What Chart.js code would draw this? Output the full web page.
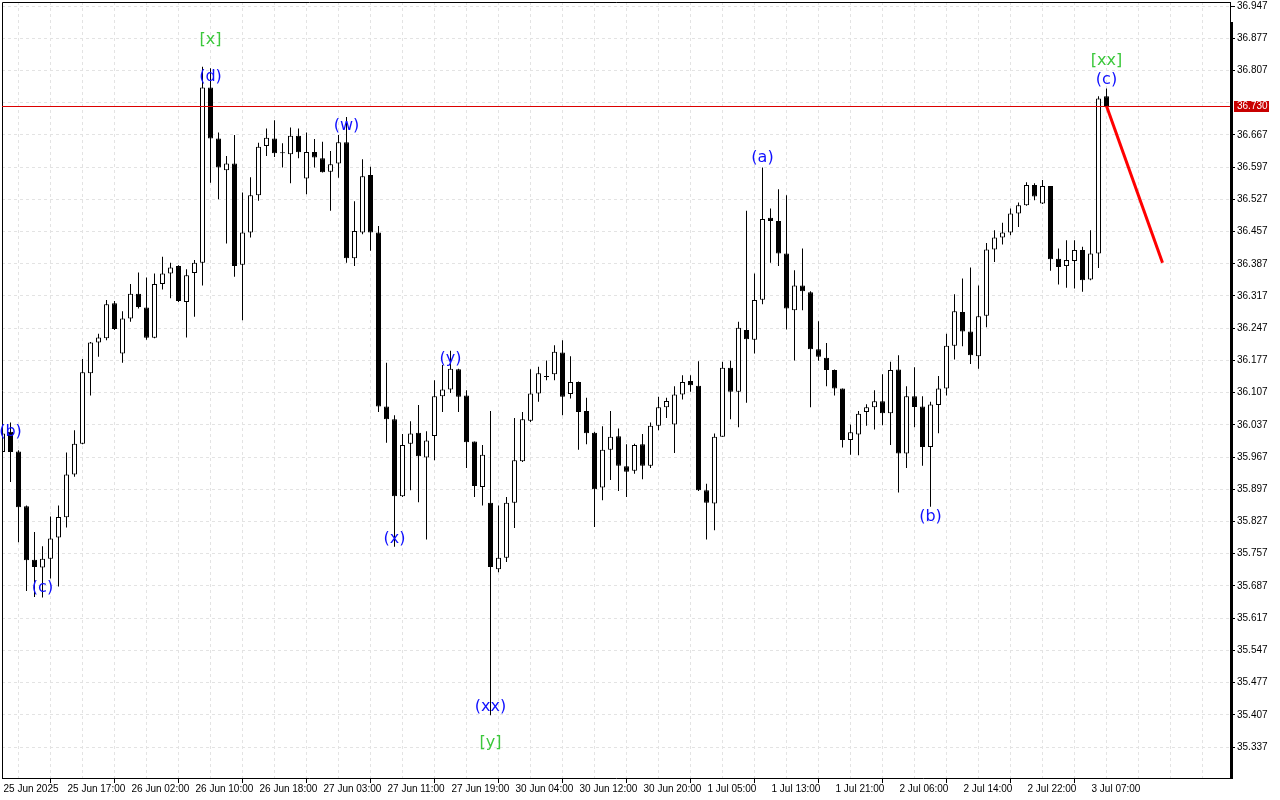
<!DOCTYPE html>
<html>
<head>
<meta charset="utf-8">
<title>Hourly candles 25 Jun - 3 Jul 2025</title>
<script src="https://cdn.jsdelivr.net/npm/chart.js@4.4.1/dist/chart.umd.min.js"></script>
<style>
  html, body { margin: 0; padding: 0; background: #fff; }
  canvas { display: block; }
</style>
</head>
<body>
<canvas id="priceChart" width="1280" height="800"></canvas>
<script>
// hourly candles, 25 Jun 09:00 .. 3 Jul 09:00 (139 bars)
const openPrices = [
  35.978, 36.022, 35.979, 35.860, 35.744, 35.727, 35.746, 35.792, 35.836, 35.929,
  35.996, 36.149, 36.216, 36.225, 36.301, 36.192, 36.268, 36.322, 36.292, 36.226,
  36.343, 36.366, 36.382, 36.304, 36.367, 36.389, 36.770, 36.659, 36.590, 36.605,
  36.385, 36.455, 36.536, 36.643, 36.659, 36.627, 36.625, 36.665, 36.572, 36.630,
  36.616, 36.587, 36.605, 36.651, 36.399, 36.455, 36.580, 36.455, 36.077, 36.049,
  35.882, 35.996, 36.020, 35.966, 36.013, 36.099, 36.114, 36.158, 36.101, 36.001,
  35.902, 35.868, 35.723, 35.748, 35.868, 35.958, 36.046, 36.105, 36.141, 36.147,
  36.194, 36.104, 36.130, 36.067, 36.020, 35.901, 35.983, 36.012, 35.947, 35.937,
  35.995, 35.948, 36.035, 36.075, 36.038, 36.103, 36.132, 36.122, 35.895, 35.866,
  36.011, 36.161, 36.109, 36.243, 36.222, 36.309, 36.487, 36.480, 36.409, 36.286,
  36.340, 36.325, 36.201, 36.183, 36.156, 36.116, 36.004, 36.016, 36.065, 36.075,
  36.088, 36.062, 36.157, 35.975, 36.099, 36.077, 35.989, 36.080, 36.116, 36.209,
  36.282, 36.240, 36.186, 36.274, 36.418, 36.444, 36.455, 36.496, 36.514, 36.558,
  36.518, 36.556, 36.398, 36.382, 36.393, 36.417, 36.353, 36.409, 36.751
];
const highPrices = [
  36.030, 36.042, 35.982, 35.862, 35.804, 35.773, 35.838, 35.862, 35.977, 36.025,
  36.180, 36.217, 36.235, 36.308, 36.306, 36.284, 36.343, 36.368, 36.357, 36.366,
  36.402, 36.389, 36.384, 36.375, 36.395, 36.815, 36.812, 36.672, 36.621, 36.667,
  36.542, 36.575, 36.650, 36.681, 36.699, 36.649, 36.683, 36.681, 36.672, 36.658,
  36.652, 36.632, 36.667, 36.706, 36.523, 36.614, 36.598, 36.469, 36.172, 36.058,
  36.017, 36.045, 36.080, 36.023, 36.134, 36.167, 36.198, 36.159, 36.112, 36.001,
  35.993, 36.067, 35.862, 35.880, 36.052, 36.065, 36.158, 36.163, 36.177, 36.210,
  36.221, 36.186, 36.131, 36.096, 36.022, 36.034, 36.067, 36.029, 35.995, 35.996,
  36.017, 36.042, 36.098, 36.096, 36.121, 36.145, 36.145, 36.175, 35.909, 36.018,
  36.174, 36.176, 36.261, 36.502, 36.366, 36.596, 36.507, 36.549, 36.536, 36.373,
  36.420, 36.327, 36.262, 36.215, 36.157, 36.116, 36.038, 36.067, 36.082, 36.112,
  36.147, 36.174, 36.188, 36.121, 36.162, 36.099, 36.087, 36.143, 36.235, 36.321,
  36.355, 36.379, 36.340, 36.432, 36.460, 36.476, 36.507, 36.520, 36.564, 36.562,
  36.569, 36.556, 36.420, 36.438, 36.438, 36.424, 36.460, 36.751, 36.768
];
const lowPrices = [
  35.970, 35.913, 35.782, 35.676, 35.663, 35.662, 35.703, 35.686, 35.814, 35.924,
  35.995, 36.101, 36.185, 36.221, 36.243, 36.172, 36.261, 36.290, 36.222, 36.225,
  36.331, 36.312, 36.304, 36.227, 36.272, 36.340, 36.563, 36.527, 36.431, 36.359,
  36.264, 36.444, 36.524, 36.621, 36.619, 36.596, 36.562, 36.616, 36.538, 36.596,
  36.585, 36.502, 36.574, 36.389, 36.382, 36.451, 36.415, 36.065, 35.998, 35.772,
  35.880, 35.895, 35.869, 35.788, 35.960, 36.065, 36.106, 36.065, 35.943, 35.880,
  35.862, 35.406, 35.717, 35.739, 35.813, 35.956, 36.043, 36.087, 36.134, 36.134,
  36.058, 36.094, 35.983, 35.995, 35.815, 35.873, 35.917, 35.893, 35.880, 35.931,
  35.919, 35.943, 36.025, 36.052, 35.976, 36.092, 36.109, 35.893, 35.788, 35.808,
  36.011, 36.049, 36.032, 36.085, 36.192, 36.299, 36.389, 36.382, 36.244, 36.177,
  36.286, 36.075, 36.176, 36.121, 36.101, 35.988, 35.972, 35.971, 36.035, 36.027,
  36.036, 35.993, 35.890, 35.943, 36.032, 35.948, 35.859, 36.019, 36.101, 36.179,
  36.208, 36.169, 36.159, 36.249, 36.391, 36.429, 36.449, 36.467, 36.513, 36.525,
  36.517, 36.372, 36.342, 36.335, 36.333, 36.326, 36.351, 36.378, 36.728
];
const closePrices = [
  36.018, 35.978, 35.858, 35.743, 35.728, 35.746, 35.790, 35.837, 35.929, 35.996,
  36.151, 36.216, 36.227, 36.299, 36.245, 36.268, 36.322, 36.293, 36.226, 36.343,
  36.366, 36.379, 36.306, 36.362, 36.389, 36.770, 36.659, 36.596, 36.605, 36.382,
  36.455, 36.536, 36.641, 36.661, 36.627, 36.629, 36.665, 36.629, 36.630, 36.618,
  36.586, 36.603, 36.651, 36.399, 36.458, 36.577, 36.455, 36.077, 36.049, 35.882,
  35.993, 36.018, 35.969, 36.003, 36.099, 36.114, 36.159, 36.098, 35.999, 35.904,
  35.972, 35.728, 35.748, 35.868, 35.960, 36.049, 36.105, 36.149, 36.143, 36.196,
  36.098, 36.130, 36.065, 36.019, 35.897, 35.983, 36.011, 35.948, 35.935, 35.993,
  35.948, 36.035, 36.075, 36.089, 36.103, 36.130, 36.123, 35.895, 35.868, 36.011,
  36.161, 36.109, 36.248, 36.223, 36.308, 36.484, 36.480, 36.409, 36.290, 36.340,
  36.327, 36.201, 36.185, 36.156, 36.116, 36.004, 36.021, 36.061, 36.075, 36.088,
  36.062, 36.156, 35.975, 36.099, 36.076, 35.989, 36.081, 36.116, 36.209, 36.284,
  36.240, 36.188, 36.273, 36.418, 36.444, 36.455, 36.496, 36.514, 36.558, 36.533,
  36.556, 36.397, 36.380, 36.395, 36.417, 36.351, 36.409, 36.746, 36.730
];

// one time label every 8 bars
const timeLabels = [
  '25 Jun 2025', '25 Jun 17:00', '26 Jun 02:00', '26 Jun 10:00', '26 Jun 18:00',
  '27 Jun 03:00', '27 Jun 11:00', '27 Jun 19:00', '30 Jun 04:00', '30 Jun 12:00',
  '30 Jun 20:00', '1 Jul 05:00', '1 Jul 13:00', '1 Jul 21:00', '2 Jul 06:00',
  '2 Jul 14:00', '2 Jul 22:00', '3 Jul 07:00'
];
const priceTicks = [
  35.337, 35.407, 35.477, 35.547, 35.617, 35.687, 35.757, 35.827, 35.897, 35.967,
  36.037, 36.107, 36.177, 36.247, 36.317, 36.387, 36.457, 36.527, 36.597, 36.667,
  36.737, 36.807, 36.877, 36.947
];

// wave marks (minor = blue, intermediate = green)
const minorText = ['(b)', '(c)', '(d)', '(w)', '(x)', '(y)', '(xx)', '(a)', '(b)', '(c)'];
const minorBar = [1, 5, 26, 43, 49, 56, 61, 95, 116, 138];
const minorPrice = [36.021, 35.682, 36.793, 36.686, 35.790, 36.180, 35.425, 36.617, 35.838, 36.786];
const majorText = ['[x]', '[y]', '[xx]'];
const majorBar = [26, 61, 138];
const majorPrice = [36.873, 35.345, 36.827];

const lastPrice = 36.730;
const forecastBar = [138, 145];
const forecastPrice = [36.730, 36.389];

const axisFont = { family: 'Liberation Sans', size: 10 };
const gridColor = '#e3e3e3';

const isUp = i => closePrices[i] >= openPrices[i];
// the price label box hides the axis label next to it
const nearLast = v => Math.abs(v - lastPrice) < 0.015;
const hasTimeLabel = v => v % 8 === 0 && timeLabels[v / 8] !== undefined;

const bodyData = openPrices.map((o, i) => ({ x: i, y: [o, closePrices[i]] }));
const wickData = lowPrices.map((l, i) => ({ x: i, y: [l, highPrices[i]] }));
const forecastData = forecastBar.map((b, i) => ({ x: b, y: forecastPrice[i] }));

const overlay = {
  id: 'overlay',
  afterDraw(chart) {
    const { ctx, chartArea: a, scales: { x, y } } = chart;
    ctx.save();
    ctx.setLineDash([]);
    // frame
    ctx.strokeStyle = '#000';
    ctx.lineWidth = 1;
    ctx.beginPath();
    ctx.moveTo(a.left + 0.5, a.bottom);
    ctx.lineTo(a.left + 0.5, a.top + 0.5);
    ctx.lineTo(a.right + 1, a.top + 0.5);
    ctx.stroke();
    ctx.fillStyle = '#000';
    ctx.fillRect(a.right, 22, 3, a.bottom - 22 + 1);

    // last price line + label
    const py = Math.round(y.getPixelForValue(lastPrice));
    ctx.fillStyle = 'rgb(220, 0, 0)';
    ctx.fillRect(a.left, py, a.right - a.left, 1);
    ctx.fillStyle = 'rgb(200, 0, 0)';
    ctx.fillRect(a.right + 4, py - 5, 35, 11);
    ctx.fillStyle = '#fff';
    ctx.font = '10px "Liberation Sans"';
    ctx.textAlign = 'left';
    ctx.textBaseline = 'middle';
    ctx.fillText(lastPrice.toFixed(3), a.right + 7, py + 0.5);

    // wave labels
    ctx.textAlign = 'center';
    ctx.font = '16px "DejaVu Sans"';
    ctx.fillStyle = '#1010ff';
    minorText.forEach((t, i) => {
      ctx.fillText(t, x.getPixelForValue(minorBar[i]), y.getPixelForValue(minorPrice[i]));
    });
    ctx.fillStyle = '#3cc83c';
    majorText.forEach((t, i) => {
      ctx.fillText(t, x.getPixelForValue(majorBar[i]), y.getPixelForValue(majorPrice[i]));
    });
    ctx.restore();
  }
};

new Chart(document.getElementById('priceChart'), {
  type: 'bar',
  data: {
    datasets: [{
      type: 'line',
      data: forecastData,
      borderColor: '#ff0000',
      borderWidth: 3,
      pointRadius: 0,
      order: -1
    }, {
      label: 'body',
      data: bodyData,
      grouped: false,
      barThickness: 5,
      borderWidth: 1,
      borderSkipped: false,
      inflateAmount: 0,
      borderColor: '#000',
      backgroundColor: bodyData.map((d, i) => isUp(i) ? '#fff' : '#000'),
      order: 0
    }, {
      label: 'wick',
      data: wickData,
      grouped: false,
      barThickness: 1,
      borderWidth: 0,
      inflateAmount: 0,
      backgroundColor: '#000',
      order: 1
    }]
  },
  options: {
    responsive: false,
    animation: false,
    devicePixelRatio: 1,
    layout: { autoPadding: false, padding: { left: 2, top: 2, right: 0, bottom: 0 } },
    plugins: { legend: { display: false }, tooltip: { enabled: false } },
    scales: {
      x: {
        type: 'linear',
        offset: false,
        min: -0.0625,
        max: 153.4375,
        afterBuildTicks: s => {
          const t = [];
          for (let v = 0; v <= 152; v += 4) t.push({ value: v });
          s.ticks = t;
        },
        afterFit: s => { s.height = 22; s.paddingLeft = 0; s.paddingRight = 0; },
        grid: {
          color: gridColor,
          borderDash: [3, 3],
          tickLength: 5,
          tickColor: c => (c.tick && hasTimeLabel(c.tick.value)) ? '#000' : 'rgba(0,0,0,0)'
        },
        border: { display: true, color: '#000', dash: [3, 3] },
        ticks: {
          autoSkip: false,
          maxRotation: 0,
          align: 'start',
          labelOffset: 1,
          padding: 0,
          color: '#000',
          font: axisFont,
          callback: v => hasTimeLabel(v) ? timeLabels[v / 8] : ''
        }
      },
      y: {
        position: 'right',
        min: 35.2697,
        max: 36.9557,
        afterBuildTicks: s => { s.ticks = priceTicks.map(v => ({ value: v })); },
        afterFit: s => { s.width = 50; s.paddingTop = 0; s.paddingBottom = 0; },
        grid: {
          color: gridColor,
          borderDash: [3, 3],
          tickLength: 5,
          tickColor: c => (c.tick && nearLast(c.tick.value)) ? 'rgba(0,0,0,0)' : '#000'
        },
        border: { display: true, color: '#000', dash: [3, 3] },
        ticks: { padding: 2, color: '#000', font: axisFont, callback: v => nearLast(v) ? '' : v.toFixed(3) }
      }
    }
  },
  plugins: [overlay]
});
</script>
</body>
</html>
